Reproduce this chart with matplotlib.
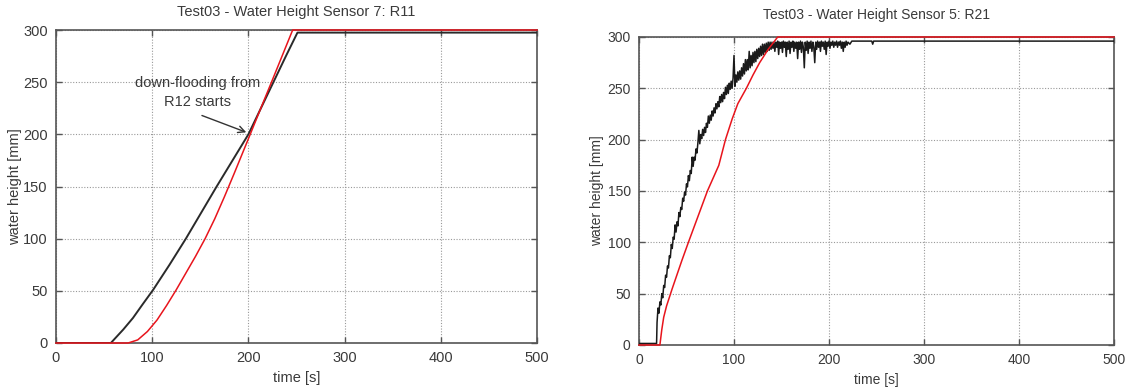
import matplotlib
matplotlib.use("Agg")
import matplotlib.pyplot as plt

plt.rcParams['font.family'] = ['Liberation Sans', 'DejaVu Sans']

# ---------------- data ----------------
left_title = "Test03 - Water Height Sensor 7: R11"
right_title = "Test03 - Water Height Sensor 5: R21"
x_label = "time [s]"
y_label = "water height [mm]"
x_ticks = [0, 100, 200, 300, 400, 500]
y_ticks = [0, 50, 100, 150, 200, 250, 300]

# left panel: measured (black) and simulated (red)
left_meas_t = [0, 57, 60, 70, 80, 90, 101, 118, 135, 151, 167, 183.5, 200, 213, 226, 239, 251, 500]
left_meas_h = [0, 0, 3, 13, 24, 37, 51, 75, 100, 125, 150, 175, 200, 225, 250, 275, 297.5, 297.5]
left_sim_t = [0, 75, 85, 95, 105, 115, 125, 135, 145, 155, 165, 175, 185, 193, 201, 212, 224, 235, 246, 500]
left_sim_h = [0, 0, 3, 11, 22, 36, 51, 67, 83, 100, 119, 140, 162, 180, 198, 223, 250, 275, 300, 300]

annot_text = "down-flooding from\nR12 starts"
annot_xy = (200.5, 201)
annot_text_xy = (147, 240)
annot_tail = (149, 219)

# right panel: measured (noisy, black) and simulated (red)
right_meas_t = [0, 18.5, 19,
    20, 21, 22, 23, 24, 25, 26, 27, 28, 29, 30, 31, 32, 33, 34, 35, 36, 37, 38, 39,
    40, 41, 42, 43, 44, 45, 46, 47, 48, 49, 50, 51, 52, 53, 54, 55, 56, 57, 58, 59,
    60, 61, 62, 63, 64, 65, 66, 67, 68, 69, 70, 71, 72, 73, 74, 75, 76, 77, 78, 79,
    80, 81, 82, 83, 84, 85, 86, 87, 88, 89, 90, 91, 92, 93, 94, 95, 96, 97, 98, 99,
    100, 101, 102, 103, 104, 105, 106, 107, 108, 109, 110, 111, 112, 113, 114, 115, 116, 117, 118, 119,
    120, 121, 122, 123, 124, 125, 126, 127, 128, 129, 130, 131, 132, 133, 134, 135, 136, 137, 138, 139,
    140, 141, 142, 143, 144, 145, 146, 147, 148, 149, 150, 151, 152, 153, 154, 155, 156, 157, 158, 159,
    160, 161, 162, 163, 164, 165, 166, 167, 168, 169, 170, 171, 172, 173, 174, 175, 176, 177, 178, 179,
    180, 181, 182, 183, 184, 185, 186, 187, 188, 189, 190, 191, 192, 193, 194, 195, 196, 197, 198, 199,
    200, 201, 202, 203, 204, 205, 206, 207, 208, 209, 210, 211, 212, 213, 214, 215, 216, 217, 218, 219,
    220, 222, 224, 245, 246, 247, 500]
right_meas_h = [1.5, 1.5, 22,
    36, 31, 42, 39, 50, 46, 58, 56, 68, 66, 77, 75, 87, 85, 98, 94, 105, 103, 117, 110,
    120, 116, 129, 125, 134, 132, 143, 140, 149, 146, 157, 154, 165, 160, 170, 167, 183, 174, 183, 180,
    191, 187, 197, 209, 196, 205, 201, 210, 204, 212, 207, 216, 212, 223, 216, 224, 219, 228, 223, 231,
    226, 235, 230, 237, 232, 242, 236, 244, 237, 246, 240, 251, 244, 253, 245, 255, 249, 257, 250, 260,
    282, 252, 263, 256, 266, 258, 267, 259, 270, 262, 274, 264, 278, 267, 278, 268, 286, 270, 282, 272,
    285, 275, 286, 276, 288, 279, 289, 281, 291, 282, 293, 283, 293, 285, 294, 286, 295, 287, 295, 288,
    295, 289, 295, 286, 295, 290, 296, 283, 295, 289, 295, 285, 296, 290, 295, 281, 295, 288, 296, 284,
    295, 290, 296, 286, 295, 289, 295, 279, 295, 288, 296, 285, 295, 290, 270, 295, 287, 296, 284, 295,
    289, 296, 286, 295, 290, 275, 295, 288, 296, 290, 295, 286, 296, 291, 295, 288, 296, 283, 295, 291,
    296, 289, 295, 292, 296, 290, 295, 292, 296, 290, 295, 292, 296, 289, 295, 286, 295, 290, 296, 292,
    295, 293, 296, 296, 293, 296, 296]
right_sim_t = [0, 22, 24, 26, 29, 35, 45, 52, 62, 72, 84, 91, 98, 104, 113, 120, 127, 136, 146, 500]
right_sim_h = [0, 0, 15, 27, 38, 55, 82, 100, 125, 150, 175, 200, 220, 235, 250, 263, 275, 288, 300, 300]

# ---------------- style ----------------
W, H = 1129, 389
fig = plt.figure(figsize=(W / 100, H / 100), dpi=100)
txt = '#3a3a3a'
frame = '#555555'


def style(ax, fs, lpad):
    ax.set_xlim(0, 500)
    ax.set_ylim(0, 300)
    ax.set_xticks(x_ticks)
    ax.set_yticks(y_ticks)
    ax.tick_params(direction='in', top=True, right=True, length=4, width=1,
                   colors=frame, labelcolor=txt, labelsize=fs, pad=6)
    ax.grid(True, color='#999999', linestyle=(0, (1, 1.5)), linewidth=0.8)
    for s in ax.spines.values():
        s.set_color(frame)
        s.set_linewidth(1.2)
    ax.set_xlabel(x_label, fontsize=fs, color=txt, labelpad=4)
    ax.set_ylabel(y_label, fontsize=fs, color=txt, labelpad=lpad)


ax1 = fig.add_axes([56 / W, 1 - 343 / H, 481 / W, 313 / H])
style(ax1, 10.5, 1)
ax1.plot(left_meas_t, left_meas_h, color='#2a2a2a', linewidth=1.4, zorder=3)
ax1.plot(left_sim_t, left_sim_h, color='#e8141c', linewidth=1.1, zorder=4, clip_on=False)
ax1.set_title(left_title, fontsize=10.5, color=txt, pad=10)
ax1.text(annot_text_xy[0], annot_text_xy[1], annot_text, ha='center', va='center',
         fontsize=10.5, color=txt, linespacing=1.5, zorder=5)
ax1.annotate('', xy=annot_xy, xytext=annot_tail,
             arrowprops=dict(arrowstyle='->', color='#333333', lw=1.0,
                             mutation_scale=12), zorder=5)

ax2 = fig.add_axes([639 / W, 1 - 345 / H, 475 / W, 308 / H])
style(ax2, 10, 2)
ax2.plot(right_meas_t, right_meas_h, color='#1a1a1a', linewidth=1.1, zorder=3)
ax2.plot(right_sim_t, right_sim_h, color='#e8141c', linewidth=1.1, zorder=4, clip_on=False)
ax2.set_title(right_title, fontsize=10, color=txt, pad=13)

fig.savefig('out.png', dpi=100)
